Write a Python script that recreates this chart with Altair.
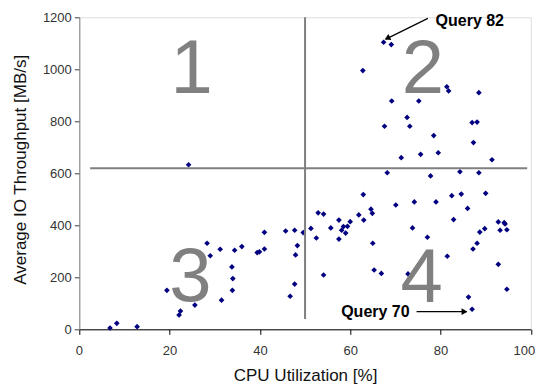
import altair as alt
import pandas as pd

# CPU utilization [%] and average IO throughput [MB/s]
cpu = [24.2,
       67.4, 69.1, 62.8, 81.4, 81.8, 88.5, 69.2, 75.2, 72.6, 67.6, 73.2, 87.0, 88.1,
       78.5, 87.3, 71.3, 75.6, 79.5, 91.4, 68.2, 77.8, 84.3, 88.5,
       6.8, 8.3, 12.8, 19.4, 22.1, 22.4, 25.6, 28.3, 29.0, 31.2, 31.5, 33.8, 34.0,
       33.9, 34.4, 36.0, 39.4, 39.9, 41.0, 41.0, 45.7, 47.7, 48.3, 47.9, 47.7, 46.7,
       49.6, 51.3, 52.5, 52.9, 54.1, 54.1, 55.7, 57.5, 57.5, 58.1, 58.5, 59.0, 59.4,
       60.0, 61.9, 63.0, 62.9, 64.6, 64.9, 65.0, 65.3, 66.9, 70.1, 72.8, 73.8, 74.2,
       77.1, 79.0, 81.5, 82.5, 82.9, 84.6, 86.0, 86.2, 87.0, 87.2, 88.1, 88.7, 89.8,
       90.0, 92.8, 93.2, 94.1, 94.3, 94.7, 92.8, 94.7]
io = [633,
      1104, 1095, 995, 933, 917, 910, 878, 878, 815, 781, 781, 795, 797,
      745, 718, 660, 673, 679, 652, 602, 590, 606, 602,
      5, 23, 10, 150, 55, 70, 93, 331, 283, 308, 112, 240, 195,
      150, 304, 318, 295, 298, 309, 373, 378, 381, 322, 286, 174, 127,
      372, 388, 351, 448, 443, 209, 390, 420, 347, 381, 395, 370, 396,
      414, 440, 420, 518, 462, 446, 331, 228, 215, 478, 213, 390, 490,
      354, 490, 281, 514, 422, 520, 465, 124, 77, 309, 331, 374, 387,
      523, 413, 381, 410, 405, 383, 250, 154]

# quadrant dividers (data coordinates)
div_cpu = [2.4, 50]
div_cpu2 = [99.2, 50]
div_io = [619, 40]
div_io2 = [619, 1200]

# quadrant numbers
quad_labels = ["1", "2", "3", "4"]
quad_cpu = [24.9, 76.1, 24.6, 75.8]
quad_io = [909, 907, 107, 104]

# query annotations
query_labels = ["Query 82", "Query 70"]
query_cpu = [78.9, 58.0]
query_io = [1166, 48]
arrow_cpu = [77.2, 74.7]
arrow_io = [1196, 67.7]
arrow_cpu2 = [67.9, 85.8]
arrow_io2 = [1116, 67.7]
head_cpu = [68.4, 85.1]
head_io = [1121, 67.7]
head_angle = [244, 90]

FONT = "Liberation Sans"

xscale = alt.Scale(domain=[0, 100], nice=False, zero=True)
yscale = alt.Scale(domain=[0, 1200], nice=False, zero=True)
xaxis = alt.Axis(values=[0, 20, 40, 60, 80, 100], title="CPU Utilization [%]", format="d",
                 grid=False, domainColor="#000000", tickColor="#000000",
                 tickSize=5, labelPadding=10, labelFontSize=13, labelColor="#333333",
                 labelFlush=True, labelFlushOffset=4,
                 labelFont=FONT, titleFont=FONT, titleFontSize=17, titleFontWeight="normal",
                 titleColor="#111111", titleY=51.4, titleBaseline="alphabetic")
yaxis = alt.Axis(values=[0, 200, 400, 600, 800, 1000, 1200], format="d",
                 title="Average IO Throughput [MB/s]", grid=False,
                 domainColor="#808080", tickColor="#404040", tickSize=5, labelPadding=3,
                 labelFontSize=13, labelColor="#333333", labelFont=FONT,
                 titleFont=FONT, titleFontSize=17, titleFontWeight="normal",
                 titleColor="#111111", titleX=-54.3, titleY=152, titleAngle=270,
                 titleBaseline="alphabetic", titleAlign="center")

def X(field):
    return alt.X(field, type="quantitative", scale=xscale, axis=xaxis)

def Y(field):
    return alt.Y(field, type="quantitative", scale=yscale, axis=yaxis)

pts = pd.DataFrame({"cpu": cpu, "io": io})
points = alt.Chart(pts).mark_point(shape="diamond", filled=True, size=32,
                                   color="#000080", opacity=1).encode(x=X("cpu"), y=Y("io"))

divs = pd.DataFrame({"cpu": div_cpu, "cpu2": div_cpu2, "io": div_io, "io2": div_io2})
dividers = alt.Chart(divs).mark_rule(color="#808080", strokeWidth=2).encode(
    x=X("cpu"), x2="cpu2", y=Y("io"), y2="io2")

quads = pd.DataFrame({"cpu": quad_cpu, "io": quad_io, "label": quad_labels})
quad_text = alt.Chart(quads).mark_text(font=FONT, fontSize=76, color="#808080",
                                       align="center", baseline="alphabetic").encode(
    x=X("cpu"), y=Y("io"), text="label")

arrows = pd.DataFrame({"cpu": arrow_cpu, "cpu2": arrow_cpu2, "io": arrow_io, "io2": arrow_io2})
arrow_lines = alt.Chart(arrows).mark_rule(color="#000000", strokeWidth=1.2).encode(
    x=X("cpu"), x2="cpu2", y=Y("io"), y2="io2")

heads = pd.DataFrame({"cpu": head_cpu, "io": head_io, "angle": head_angle})
arrow_heads = alt.Chart(heads).mark_point(shape="triangle", filled=True, size=45,
                                          color="#000000", opacity=1).encode(
    x=X("cpu"), y=Y("io"), angle=alt.Angle("angle:Q", scale=None))

qs = pd.DataFrame({"cpu": query_cpu, "io": query_io, "label": query_labels})
query_text = alt.Chart(qs).mark_text(font=FONT, fontSize=16, fontWeight="bold",
                                     color="#000000", align="left",
                                     baseline="alphabetic").encode(
    x=X("cpu"), y=Y("io"), text="label")

chart = alt.layer(points, dividers, quad_text, arrow_lines, arrow_heads, query_text).properties(
    width=451.5, height=312,
    autosize=alt.AutoSizeParams(type="none"),
    padding={"left": 71.3, "top": 9.3, "right": 4.2, "bottom": 56.7},
).configure_view(stroke=None).configure(background="#ffffff")

chart.save("out.html", embed_options={"renderer": "svg", "actions": False})
